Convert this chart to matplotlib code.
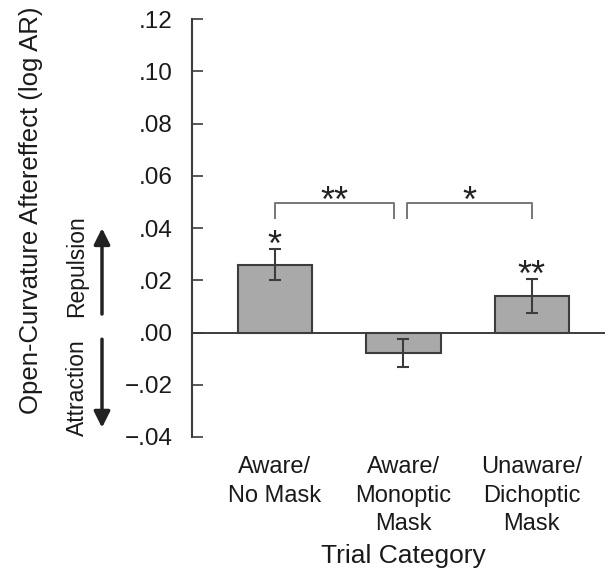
import matplotlib
matplotlib.use("Agg")
import matplotlib.pyplot as plt
from matplotlib.ticker import FuncFormatter

plt.rcParams["font.family"] = ["Liberation Sans", "DejaVu Sans"]

# data
categories = ["Aware/\nNo Mask", "Aware/\nMonoptic\nMask", "Unaware/\nDichoptic\nMask"]
means = [0.026, -0.0078, 0.014]
errors = [0.006, 0.0053, 0.0065]
bar_stars = ["*", "", "**"]
yticks = [-0.04, -0.02, 0.00, 0.02, 0.04, 0.06, 0.08, 0.10, 0.12]

# pairwise comparisons: (x start, x end, label)
brackets = [(0.0, 0.93, "**"), (1.03, 2.0, "*")]

dark = "#3c3c3c"


def tick_fmt(v, pos):
    s = "%.2f" % abs(v)
    s = s[1:]  # drop leading zero
    return ("\u2212" + s) if v < -1e-9 else s


fig = plt.figure(figsize=(6.13, 5.69), dpi=100)
ax = fig.add_axes([0.313, 0.232, 0.674, 0.7345])

x = list(range(len(categories)))
ax.bar(x, means, width=0.58, color="#a9a9a9", edgecolor=dark, linewidth=1.5, zorder=2)
ax.errorbar(x, means, yerr=errors, fmt="none", ecolor=dark, elinewidth=1.5,
            capsize=4, capthick=1.5, zorder=3)
ax.axhline(0, color=dark, lw=1.4, zorder=4)

for xi, m, e, s in zip(x, means, errors, bar_stars):
    if s:
        ax.text(xi, m + e - 0.0025, s, ha="center", va="baseline", fontsize=26, color="#222222")

# significance brackets
b_top, b_leg = 0.0495, 0.0434
for x0, x1, lab in brackets:
    ax.plot([x0, x0, x1, x1], [b_leg, b_top, b_top, b_leg], color="#777777", lw=1.4,
            solid_capstyle="butt", zorder=2)
    ax.text((x0 + x1) / 2, b_top - 0.0032, lab, ha="center", va="baseline", fontsize=26,
            color="#222222")

ax.set_xlim(-0.646, 2.57)
ax.set_ylim(-0.04, 0.12)
ax.set_yticks(yticks)
ax.yaxis.set_major_formatter(FuncFormatter(tick_fmt))
ax.tick_params(axis="y", direction="in", length=8, width=1.2, color=dark, pad=14,
               labelsize=17.5, labelcolor="#1a1a1a")
ax.set_xticks(x)
ax.set_xticklabels(categories, fontsize=17, color="#1a1a1a", linespacing=1.36)
ax.tick_params(axis="x", length=0, pad=14)

for side in ["top", "right", "bottom"]:
    ax.spines[side].set_visible(False)
ax.spines["left"].set_color(dark)
ax.spines["left"].set_linewidth(1.5)

ax.set_xlabel("Trial Category", fontsize=19, color="#1a1a1a")
ax.xaxis.set_label_coords(0.511, -0.255)

fig.text(0.05, 0.631, "Open-Curvature Aftereffect (log AR)", rotation=90,
         ha="center", va="center", fontsize=18.5, color="#1a1a1a")

# direction arrows and labels
arrow_x = 102 / 613
ax.annotate("", xy=(arrow_x, 0.041), xytext=(arrow_x, 0.006),
            xycoords=("figure fraction", "data"), annotation_clip=False,
            arrowprops=dict(arrowstyle="-|>", color="#222222", lw=2.5, mutation_scale=24))
ax.annotate("", xy=(arrow_x, -0.0375), xytext=(arrow_x, -0.0015),
            xycoords=("figure fraction", "data"), annotation_clip=False,
            arrowprops=dict(arrowstyle="-|>", color="#222222", lw=2.5, mutation_scale=24))
ax.annotate("Repulsion", xy=(77 / 613, 0.0255), xycoords=("figure fraction", "data"),
            rotation=90, ha="center", va="center", fontsize=16.5, color="#1a1a1a",
            annotation_clip=False)
ax.annotate("Attraction", xy=(77 / 613, -0.0211), xycoords=("figure fraction", "data"),
            rotation=90, ha="center", va="center", fontsize=16.5, color="#1a1a1a",
            annotation_clip=False)

fig.savefig("out.png", dpi=100)
